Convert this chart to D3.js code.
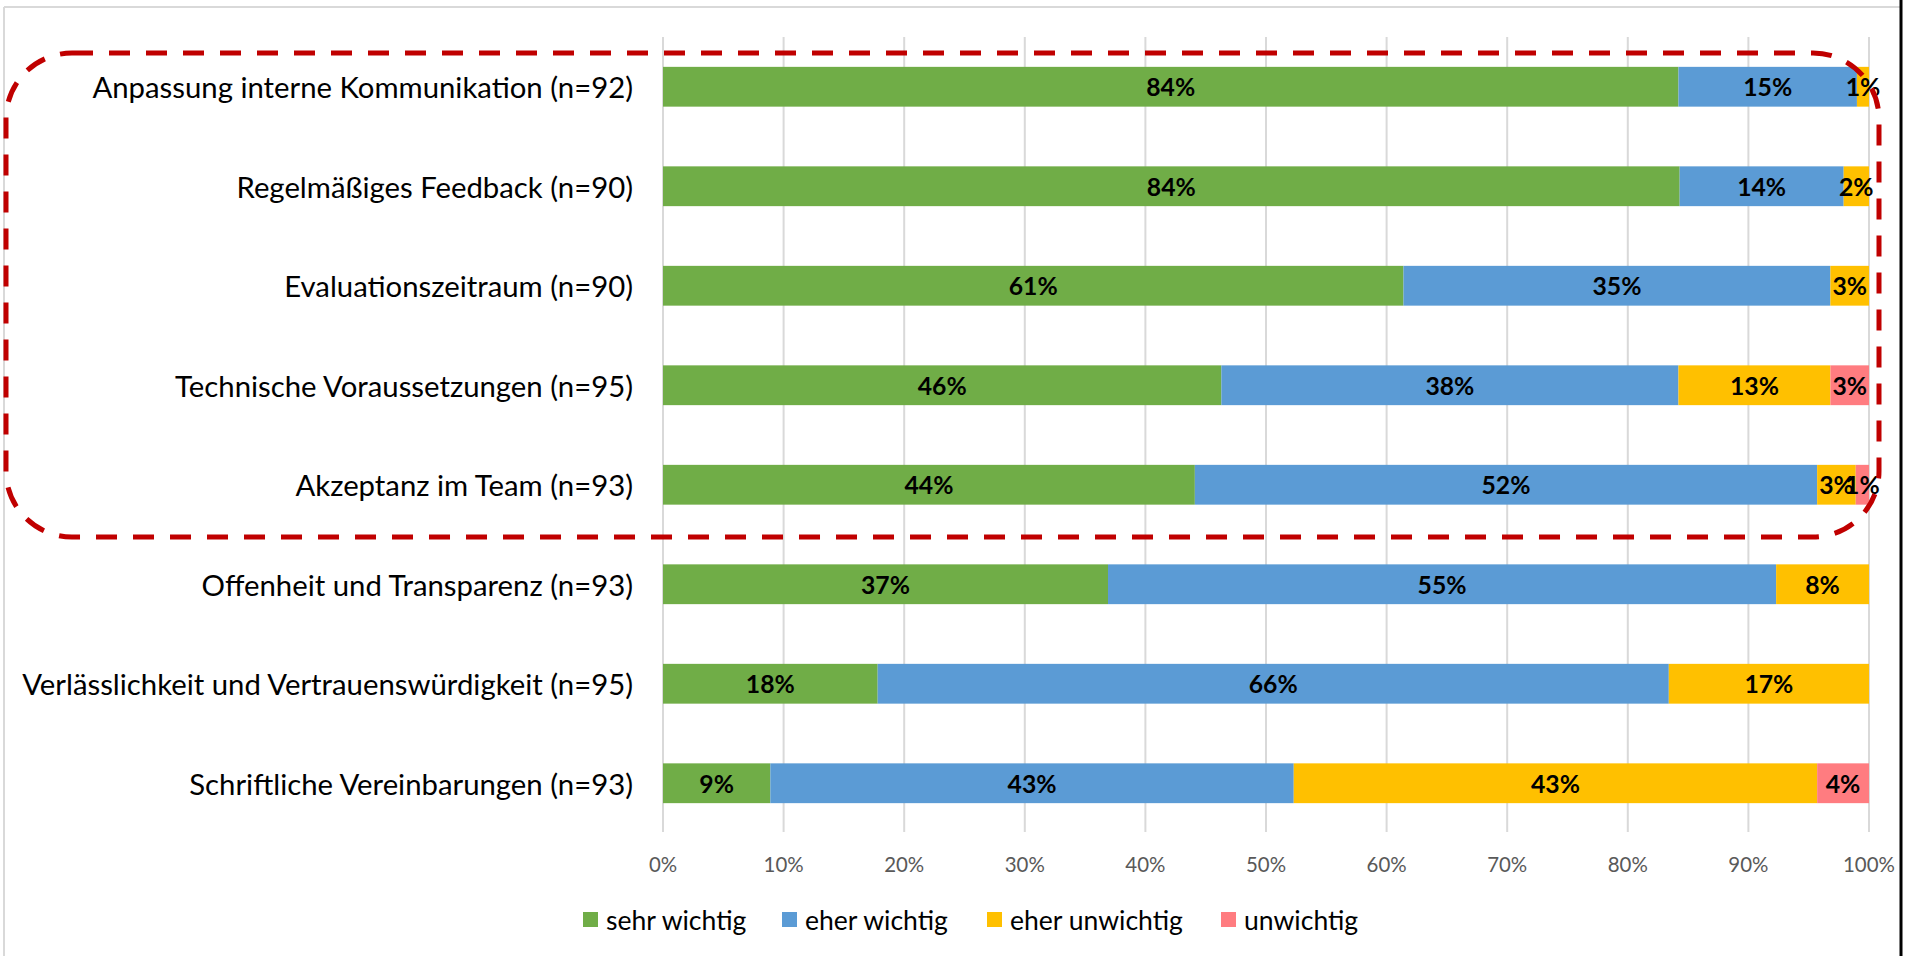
<!DOCTYPE html>
<html>
<head>
<meta charset="utf-8">
<script src="https://cdn.jsdelivr.net/npm/d3@7"></script>
<style>
  html, body { margin: 0; padding: 0; background: #fff; }
  svg { display: block; }
</style>
</head>
<body>
<svg id="chart" width="1912" height="956"></svg>
<script>
const categories = [
  "Anpassung interne Kommunikation (n=92)",
  "Regelmäßiges Feedback (n=90)",
  "Evaluationszeitraum (n=90)",
  "Technische Voraussetzungen (n=95)",
  "Akzeptanz im Team (n=93)",
  "Offenheit und Transparenz (n=93)",
  "Verlässlichkeit und Vertrauenswürdigkeit (n=95)",
  "Schriftliche Vereinbarungen (n=93)"
];
const seriesNames = ["sehr wichtig", "eher wichtig", "eher unwichtig", "unwichtig"];
const sehrWichtig   = [84.2, 84.3, 61.4, 46.3, 44.1, 36.9, 17.8, 8.9];
const eherWichtig   = [14.8, 13.6, 35.4, 37.9, 51.6, 55.4, 65.6, 43.4];
const eherUnwichtig = [1.0, 2.1, 3.2, 12.6, 3.2, 7.7, 16.6, 43.4];
const unwichtig     = [0, 0, 0, 3.2, 1.1, 0, 0, 4.3];
const tickValues = [0, 10, 20, 30, 40, 50, 60, 70, 80, 90, 100];
const tickLabels = ["0%", "10%", "20%", "30%", "40%", "50%", "60%", "70%", "80%", "90%", "100%"];
const colors = ["#70AD47", "#5B9BD5", "#FFC000", "#FF7C80"];

const seriesValues = [sehrWichtig, eherWichtig, eherUnwichtig, unwichtig];
const table = categories.map((c, i) => {
  const row = { cat: c };
  seriesNames.forEach((s, j) => row[s] = seriesValues[j][i]);
  return row;
});

const FONT = "Lato, 'Open Sans', sans-serif";
const svg = d3.select("#chart");

// chart frame
svg.append("line").attr("x1", 4).attr("x2", 1900).attr("y1", 7).attr("y2", 7)
  .attr("stroke", "#d9d9d9").attr("stroke-width", 2);
svg.append("line").attr("x1", 4).attr("x2", 4).attr("y1", 7).attr("y2", 956)
  .attr("stroke", "#d9d9d9").attr("stroke-width", 2);
svg.append("line").attr("x1", 1901).attr("x2", 1901).attr("y1", 0).attr("y2", 956)
  .attr("stroke", "#000").attr("stroke-width", 3);

const x = d3.scaleLinear().domain([0, 100]).range([663, 1869]);
const y = d3.scaleBand().domain(categories).range([37, 833]).paddingInner(0.6).paddingOuter(0.3);

// gridlines
svg.append("g").selectAll("line").data(tickValues).join("line")
  .attr("x1", d => x(d)).attr("x2", d => x(d))
  .attr("y1", 37).attr("y2", 832)
  .attr("stroke", "#d9d9d9").attr("stroke-width", 2);

function fitSize(sel, base, target) {
  let maxW = 0;
  sel.each(function() { maxW = Math.max(maxW, this.getComputedTextLength()); });
  return base * target / maxW;
}

// x tick labels
const tickG = svg.append("g").selectAll("text").data(tickValues).join("text")
  .attr("x", d => x(d)).attr("y", 864)
  .attr("text-anchor", "middle").attr("dominant-baseline", "central")
  .attr("font-family", FONT).attr("font-size", 20).attr("fill", "#595959")
  .text((d, i) => tickLabels[i]);
tickG.attr("font-size", fitSize(tickG.filter(d => d === 100), 20, 52));

// category labels
const catG = svg.append("g").selectAll("text").data(categories).join("text")
  .attr("x", 633).attr("y", d => y(d) + y.bandwidth() / 2)
  .attr("text-anchor", "end").attr("dominant-baseline", "central")
  .attr("font-family", FONT).attr("font-size", 26).attr("fill", "#000")
  .text(d => d);
catG.attr("font-size", fitSize(catG, 26, 611));

// stacked bars
const stack = d3.stack().keys(seriesNames)(table);
const layers = svg.append("g").selectAll("g").data(stack).join("g")
  .attr("fill", (d, i) => colors[i]);
layers.selectAll("rect").data(d => d).join("rect")
  .attr("x", d => x(d[0]))
  .attr("y", d => y(d.data.cat))
  .attr("width", d => x(d[1]) - x(d[0]))
  .attr("height", y.bandwidth());

// bar labels
const lblData = [];
stack.forEach(layer => layer.forEach(d => {
  const v = d[1] - d[0];
  if (v > 0) lblData.push({ cx: (x(d[0]) + x(d[1])) / 2, cat: d.data.cat, v });
}));
const lbl = svg.append("g").selectAll("text").data(lblData).join("text")
  .attr("x", d => d.cx).attr("y", d => y(d.cat) + y.bandwidth() / 2)
  .attr("text-anchor", "middle").attr("dominant-baseline", "central")
  .attr("font-family", FONT).attr("font-weight", "bold").attr("font-size", 22)
  .attr("fill", "#000")
  .text(d => Math.round(d.v) + "%");
lbl.attr("font-size", fitSize(lbl.filter(d => Math.round(d.v) === 15), 22, 49));

// legend
const legendX = [583, 782, 987, 1221];
const leg = svg.append("g").selectAll("g").data(seriesNames).join("g")
  .attr("transform", (d, i) => `translate(${legendX[i]},920)`);
leg.append("rect").attr("x", 0).attr("y", -8).attr("width", 15).attr("height", 15)
  .attr("fill", (d, i) => colors[i]);
const legT = leg.append("text").attr("x", 23).attr("y", 0).attr("dominant-baseline", "central")
  .attr("font-family", FONT).attr("font-size", 26).attr("fill", "#000")
  .text(d => d);
legT.attr("font-size", fitSize(legT.filter(d => d === "eher unwichtig"), 26, 173));

// red dashed highlight box
svg.append("rect")
  .attr("x", 6).attr("y", 53).attr("width", 1873).attr("height", 484)
  .attr("rx", 66).attr("ry", 66)
  .attr("fill", "none").attr("stroke", "#C00000").attr("stroke-width", 5)
  .attr("stroke-dasharray", "21,16");
</script>
</body>
</html>
